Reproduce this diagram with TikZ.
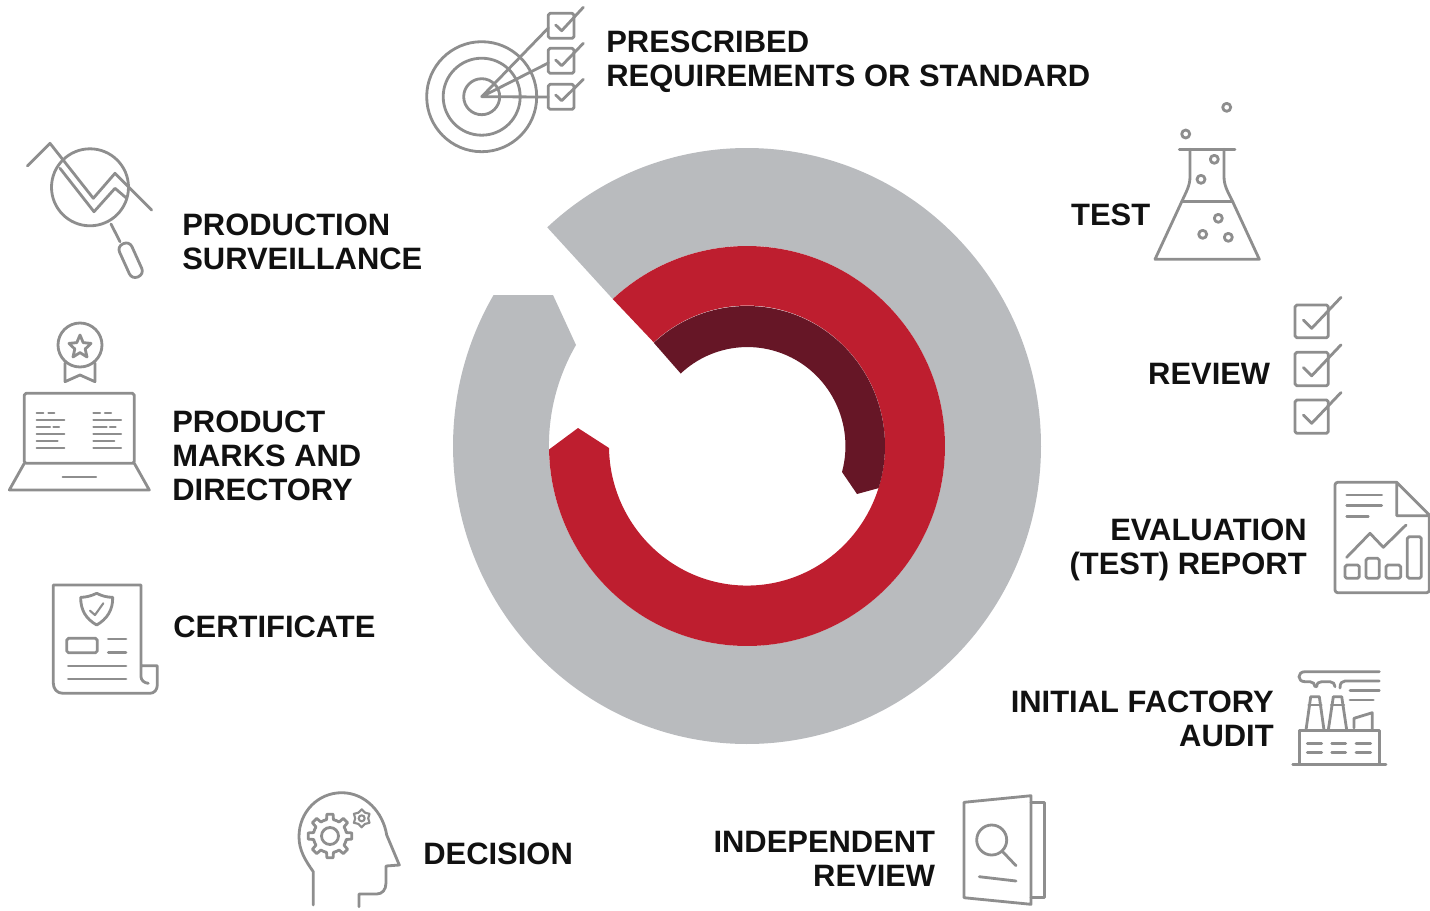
\documentclass[tikz,border=0pt]{standalone}
\usepackage{fontspec}
\setmainfont{Liberation Sans}
\definecolor{ringgrey}{HTML}{B9BBBE}
\definecolor{ringred}{HTML}{BE1E2F}
\definecolor{ringdark}{HTML}{661626}
\definecolor{icongrey}{HTML}{8E8E8E}
\definecolor{labelblack}{HTML}{111111}
\begin{document}
\begin{tikzpicture}[x=0.02cm,y=-0.02cm,
  icon/.style={draw=icongrey,line width=1.6pt,line join=round,line cap=round},
  thinicon/.style={icon,line width=1.2pt},
  caption/.style={text=labelblack,inner sep=0pt,font=\fontsize{17.6}{19.4}\selectfont\bfseries},
  capleft/.style={caption,anchor=west,align=left},
  capright/.style={caption,anchor=east,align=right}]
\useasboundingbox (0,0) rectangle (1430,910);
\coordinate (ring) at (747,446);
\fill[ringgrey] (ring) ++(227.2:294 and 298) arc[start angle=227.2,end angle=570.4,x radius=294,y radius=298]
  -- (553,295) -- (576,345) arc[start angle=570.3,end angle=227.3,x radius=198,y radius=200] -- cycle;
\fill[ringred] (ring) ++(227.3:198 and 200) arc[start angle=227.3,end angle=539,x radius=198,y radius=200]
  -- (578,428) -- (609,448) arc[start angle=539,end angle=227.5,x radius=138,y radius=140] -- cycle;
\fill[ringdark] (ring) ++(227.5:138 and 140) arc[start angle=227.5,end angle=377.5,x radius=138,y radius=140]
  -- (857,494) -- (842,472) arc[start angle=375.2,end angle=227.1,x radius=98,y radius=99] -- cycle;

\node[capleft]  (prescribed)  at (606,62)  {PRESCRIBED\\REQUIREMENTS OR STANDARD};
\node[capleft]  (surveillance) at (182,242) {PRODUCTION\\SURVEILLANCE};
\node[capleft]  (marks)       at (172,456) {PRODUCT\\MARKS AND\\DIRECTORY};
\node[capleft]  (certificate) at (173,627) {CERTIFICATE};
\node[capleft]  (decision)    at (423,854) {DECISION};
\node[capright] (independent) at (935.5,858.5) {INDEPENDENT\\REVIEW};
\node[capright] (audit)       at (1274,719) {INITIAL FACTORY\\AUDIT};
\node[capright] (report)      at (1307,550) {EVALUATION\\(TEST) REPORT};
\node[capright] (review)      at (1270.5,374) {REVIEW};
\node[capright] (test)        at (1150.5,215) {TEST};

\draw[icon] (481.7,96.7) circle[radius=55] (481.7,96.7) circle[radius=38.5] (481.7,96.7) circle[radius=18];
\draw[icon,rounded corners=1pt] (548.3,13.3) rectangle (574,38.3) (548.3,48.3) rectangle (574,73.3) (548.3,84.3) rectangle (574,109.3);
\draw[icon] (548.3,28) -- (481.7,96.7) -- (548.3,63) (481.7,96.7) -- (548.3,97);
\draw[icon] (555.7,25) -- (561.7,30.7) -- (583.3,7.3);
\draw[icon] (555.7,60) -- (561.7,65.7) -- (583.3,43.3);
\draw[icon] (555.7,95) -- (561.7,100.7) -- (583.3,79.3);

\draw[icon] (90,187.3) circle[radius=38.5];
\draw[icon] (27.3,166) -- (50,143.3) -- (93.3,198.3) -- (115,173.3) -- (151.7,210);
\draw[icon] (60,168.3) -- (94,211.7) -- (115,188.3) -- (126.7,198.3);
\draw[icon] (111,224) -- (120,241.7);
\draw[icon,rounded corners=3.5pt] (129.4,241) -- (144.3,274) -- (132,279.5) -- (117,246.5) -- cycle;

\draw[icon] (80,345) circle[radius=22];
\draw[icon] (80,335) -- (83.2,342.6) -- (91,343.4) -- (85.2,349) -- (87,357) -- (80,352.6) -- (73,357) -- (74.8,349) -- (69,343.4) -- (76.8,342.6) -- cycle;
\draw[icon] (65,363) -- (65,381.7) -- (80,375) -- (95,381.7) -- (95,363);
\draw[icon,rounded corners=1pt] (24.3,393.3) rectangle (134.3,463.3);
\draw[icon] (24.3,463.3) -- (9.3,490) -- (149.3,490) -- (134.3,463.3);
\draw[thinicon] (62.7,477.3) -- (96,477.3);
\draw[thinicon] (36.7,413.3) -- (43.3,413.3) (48.3,413.3) -- (54.3,413.3) (36.7,420) -- (64.3,420) (36.7,426.7) -- (50,426.7) (53.3,426.7) -- (59,426.7);
\draw[thinicon] (36.7,434) -- (64.3,434) (36.7,441) -- (57.7,441) (36.7,448) -- (64.3,448);
\draw[thinicon] (93.3,413.3) -- (100,413.3) (105,413.3) -- (111,413.3) (93.3,420) -- (121,420) (93.3,426.7) -- (106.7,426.7) (110,426.7) -- (115.7,426.7);
\draw[thinicon] (93.3,434) -- (121,434) (93.3,441) -- (114.3,441) (93.3,448) -- (121,448);

\draw[icon] (148.3,683.3) .. controls (144,683) and (141,680) .. (141,676.7) -- (141,585) -- (53.3,585) -- (53.3,683)
  .. controls (53.3,689) and (57,693.3) .. (63,693.3) -- (150,693.3) .. controls (154,693.3) and (157.3,690) .. (157.3,685) -- (157.3,665.7) -- (141,665.7);
\draw[icon] (96.7,593.3) .. controls (102,596) and (107,597.3) .. (112.7,597.3) .. controls (113,610) and (107,619) .. (96.7,625)
  .. controls (86,619) and (80.5,610) .. (80.7,597.3) .. controls (86,597.3) and (91,596) .. (96.7,593.3) -- cycle;
\draw[thinicon] (90,610.7) -- (95,615) -- (103.3,603.3);
\draw[icon,rounded corners=1pt] (66.7,638.3) rectangle (97.3,652.7);
\draw[icon] (108.3,639) -- (126,639) (108.3,652.3) -- (126,652.3) (68.3,666) -- (126,666) (68.3,679) -- (126,679);

\draw[icon] (313.3,905) -- (313.3,871.7) .. controls (305,860) and (299,850) .. (299,836.7) .. controls (299,812) and (318,792.7) .. (341.7,792.7)
  .. controls (365,792.7) and (383,812) .. (386.7,835) -- (399.3,865) -- (386,866) -- (386,883) .. controls (386,890) and (382,894) .. (376.7,894) -- (359,894) -- (359,906.7);
\draw[icon] (330,836) circle[radius=8.5];
\foreach \a in {0,45,...,315}
  \draw[icon] ([shift={(330,836)}]\a-22.5:16.7) -- ([shift={(330,836)}]\a-12:16.7) -- ([shift={(330,836)}]\a-8:22) -- ([shift={(330,836)}]\a+8:22) -- ([shift={(330,836)}]\a+12:16.7) -- ([shift={(330,836)}]\a+22.5:16.7);
\draw[thinicon] (361.7,818.3) circle[radius=3];
\foreach \a in {30,90,...,330}
  \draw[thinicon] ([shift={(361.7,818.3)}]\a-30:6.5) -- ([shift={(361.7,818.3)}]\a:9) -- ([shift={(361.7,818.3)}]\a+30:6.5);

\draw[icon] (964,802.3) -- (1031,795.7) -- (1031,904.3) -- (964,897.7) -- cycle;
\draw[icon] (1031,802.3) -- (1044.3,802.3) -- (1044.3,897.7) -- (1031,897.7);
\draw[icon] (991.7,840) circle[radius=15];
\draw[icon] (1002.7,851.7) -- (1016,865.7);
\draw[icon] (979.3,876.7) -- (1016,881);

\draw[icon,rounded corners=1.5pt] (1396.7,482.3) -- (1335,482.3) -- (1335,592.7) -- (1429.3,592.7) -- (1429.3,515);
\draw[icon] (1429.3,515) -- (1396.7,482.3) -- (1396.7,515.7) -- (1429.3,515.7);
\draw[icon] (1346.7,495) -- (1381.7,495) (1346.7,505.7) -- (1381.7,505.7) (1346.7,516.7) -- (1368.3,516.7);
\draw[icon] (1346.7,557.3) -- (1370,533.3) -- (1383.3,547.3) -- (1406,525);
\draw[icon,rounded corners=1pt] (1345,565) rectangle (1359.3,578.3) (1366,558.3) rectangle (1379.3,578.3) (1386,565) rectangle (1400.7,578.3) (1407.3,536.7) rectangle (1421.3,578.3);

\draw[icon] (1299.3,764) -- (1299.3,730.7) -- (1379.3,730.7) -- (1379.3,764);
\draw[icon] (1292.7,764.7) -- (1386,764.7);
\draw[icon] (1306,730) -- (1310.7,696.7) -- (1319.3,696.7) -- (1324,730);
\draw[icon] (1328.3,730) -- (1333.3,696.7) -- (1341.7,696.7) -- (1346.7,730);
\draw[thinicon] (1308.5,705) -- (1321.5,705) (1331,705) -- (1344,705);
\draw[icon] (1379.3,671.7) -- (1305,671.7) .. controls (1297,671.7) and (1297,681.7) .. (1305,681.7) -- (1310,681.7) .. controls (1313,681.7) and (1315,684) .. (1315,686.7);
\draw[icon] (1316.7,686.7) .. controls (1316.7,683) and (1319,681.7) .. (1321.7,681.7) -- (1330,681.7) .. controls (1333,681.7) and (1335,684) .. (1335,686.7);
\draw[icon] (1340,688) .. controls (1340,683) and (1342,681) .. (1345,681) -- (1379.3,681);
\draw[icon] (1350,690.7) -- (1379.3,690.7) (1350,700) -- (1373.3,700);
\draw[icon] (1354,728) -- (1354,718.3) -- (1372.3,712.7) -- (1372.3,730);
\draw[icon] (1307.3,743.3) -- (1321.7,743.3) (1331.7,743.3) -- (1345.7,743.3) (1356,743.3) -- (1370.7,743.3);
\draw[icon] (1307.3,752.7) -- (1321.7,752.7) (1331.7,752.7) -- (1345.7,752.7) (1356,752.7) -- (1370.7,752.7);

\draw[icon] (1179.3,149.3) -- (1235,149.3);
\draw[icon] (1190,149.3) -- (1190,176.7) .. controls (1190,186) and (1186,192) .. (1181.7,201.7) -- (1155,259.3) -- (1259.3,259.3) -- (1232.7,201.7) .. controls (1228,192) and (1224,186) .. (1224,176.7) -- (1224,149.3);
\draw[icon] (1181.7,201.7) -- (1232.7,201.7);
\draw[icon] (1226.7,107.3) circle[radius=4] (1185.7,134) circle[radius=4] (1214.3,159.3) circle[radius=4] (1201,179.3) circle[radius=4];
\draw[icon] (1218.3,218.3) circle[radius=4] (1202.7,234.3) circle[radius=4] (1228.3,237.3) circle[radius=4];

\draw[icon,rounded corners=1pt] (1295,305) rectangle (1328.3,337.7) (1295,352.3) rectangle (1328.3,385.7) (1295,400) rectangle (1328.3,433.3);
\draw[icon] (1303.3,320) -- (1311.7,328.3) -- (1341,297.3);
\draw[icon] (1303.3,367.5) -- (1311.7,375.8) -- (1341,344.8);
\draw[icon] (1303.3,415) -- (1311.7,423.3) -- (1341,392.5);
\end{tikzpicture}
\end{document}
